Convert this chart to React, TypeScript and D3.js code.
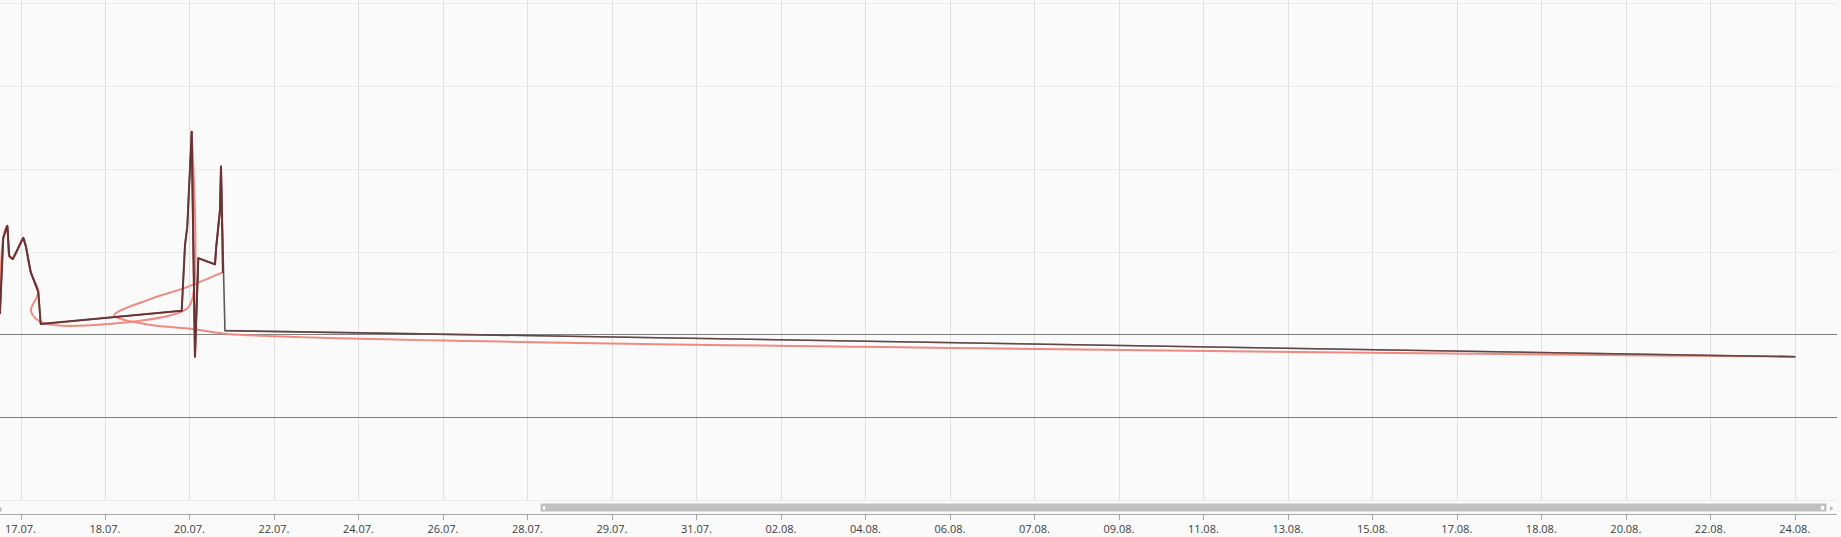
import React from 'react';
import * as d3 from 'd3';

const W = 1841;
const H = 537;

// category tick labels (evenly spaced positions 0..21)
const tickLabels = [
  '17.07.', '18.07.', '20.07.', '22.07.', '24.07.', '26.07.', '28.07.', '29.07.',
  '31.07.', '02.08.', '04.08.', '06.08.', '07.08.', '09.08.', '11.08.', '13.08.',
  '15.08.', '17.08.', '18.08.', '20.08.', '22.08.', '24.08.',
];
const yTicks = [-40, -20, 0, 20, 40, 60, 80];
const plotLineValues = [0, -20];

// gray series (linear)
const grayX = [-0.243, -0.204, -0.156, -0.133, -0.092, 0.033, 0.065, 0.121, 0.211, 0.239,
  1.908, 1.947, 1.974, 2.026, 2.065, 2.104, 2.302, 2.317, 2.361, 2.373, 2.42, 21.0];
const grayY = [5.1, 23.3, 26.2, 18.9, 18.2, 23.3, 21.1, 15.0, 10.2, 2.5,
  5.7, 21.6, 26.0, 48.9, -5.4, 18.4, 16.9, 21.2, 30.0, 40.5, 0.9, -5.4];

// dark red series: the two clusters ...
const redX = [-0.243, -0.204, -0.156, -0.133, -0.092, 0.033, 0.065, 0.121, 0.211, 0.239,
  1.908, 1.947, 1.974, 2.026, 2.065, 2.104, 2.302, 2.317, 2.361, 2.373, 2.396];
const redY = [5.1, 23.3, 26.2, 18.9, 18.2, 23.3, 21.1, 15.0, 10.2, 2.5,
  5.7, 21.6, 26.0, 48.9, -5.4, 18.4, 16.9, 21.2, 30.0, 40.5, 15.0];
// ... and its tail
const redTailX = [2.42, 21.0];
const redTailY = [0.9, -5.4];

// salmon spline series, in three stretches: rise, spikes, loop back + tail
const salmonRiseX = [-0.243, -0.204, -0.156, -0.133, -0.092, 0.033, 0.065, 0.121, 0.211, 0.124, 0.278,
  1.923, 2.03, 2.026];
const salmonRiseY = [5.1, 23.3, 26.2, 18.9, 18.2, 23.3, 21.1, 15.0, 10.2, 5.6, 2.7,
  5.6, 8.3, 48.9];
const salmonSpikeX = [2.026, 2.065, 2.104, 2.302, 2.317, 2.361, 2.373, 2.396];
const salmonSpikeY = [48.9, -5.4, 18.4, 16.9, 21.2, 30.0, 40.5, 15.0];
const salmonBackX = [2.396, 1.97, 1.533, 1.11, 1.533, 2.041, 2.45, 21.0];
const salmonBackY = [15.0, 11.4, 8.5, 4.6, 2.3, 1.3, 0.1, -5.4];

const PLOT = { left: 0, right: 1837, top: 0, bottom: 500 };

export default function App() {
  const x = d3.scaleLinear().domain([0, tickLabels.length - 1]).range([20.5, 1794.8]);
  const y = d3.scaleLinear().domain([-40, 80]).range([500, 3]);

  const zip = (xs: number[], ys: number[]) => xs.map((v, i) => [v, ys[i]] as [number, number]);

  const gray = zip(grayX, grayY);
  const red = zip(redX, redY);
  const redTail = zip(redTailX, redTailY);

  const linear = d3.line<[number, number]>().x(d => x(d[0])).y(d => y(d[1]));
  const spline = d3.line<[number, number]>()
    .x(d => x(d[0])).y(d => y(d[1]))
    .curve(d3.curveCatmullRom.alpha(0.5));

  const salmonD = [
    spline(zip(salmonRiseX, salmonRiseY)) || '',
    linear(zip(salmonSpikeX, salmonSpikeY)) || '',
    spline(zip(salmonBackX, salmonBackY)) || '',
  ];

  const font = '"Open Sans", "Noto Sans", sans-serif';

  return (
    <svg width={W} height={H} style={{ position: 'absolute', left: 0, top: 0, display: 'block' }}>
      <defs>
        <clipPath id="plotClip">
          <rect x={PLOT.left} y={PLOT.top} width={PLOT.right - PLOT.left} height={PLOT.bottom - PLOT.top} />
        </clipPath>
      </defs>
      <rect x={0} y={0} width={W} height={H} fill="#fafafa" />

      {/* horizontal grid */}
      {yTicks.map(t => (
        <line key={'h' + t} x1={PLOT.left} x2={PLOT.right} y1={Math.round(y(t)) + 0.5} y2={Math.round(y(t)) + 0.5}
          stroke="#ebebeb" strokeWidth={1} />
      ))}
      {/* vertical grid */}
      {tickLabels.map((_, i) => (
        <line key={'v' + i} x1={Math.round(x(i)) + 0.5} x2={Math.round(x(i)) + 0.5} y1={0} y2={PLOT.bottom}
          stroke="#e0e0e0" strokeWidth={1} />
      ))}
      {/* plot lines */}
      {plotLineValues.map(v => (
        <line key={'p' + v} x1={PLOT.left} x2={PLOT.right} y1={Math.round(y(v)) + 0.5} y2={Math.round(y(v)) + 0.5}
          stroke="#808080" strokeWidth={1} />
      ))}

      <g clipPath="url(#plotClip)" fill="none" strokeLinejoin="round" strokeLinecap="round">
        {salmonD.map((d, i) => (
          <path key={'s' + i} d={d} stroke="#f08a80" strokeWidth={2} />
        ))}
        <path d={linear(gray) || ''} stroke="#5a5a5a" strokeWidth={1.6} />
        <path d={linear(red) || ''} stroke="#6a2f2f" strokeWidth={2} strokeOpacity={0.9} />
        <path d={linear(redTail) || ''} stroke="#6a2f2f" strokeWidth={1.6} strokeOpacity={0.45} />
      </g>

      {/* scrollbar */}
      <rect x={0} y={507.5} width={1.5} height={4} fill="#bbbbbb" />
      <rect x={540.5} y={503.5} width={1286} height={8} fill="#c1c1c1" />
      <rect x={542.5} y={505.5} width={3} height={4.5} fill="#ffffff" stroke="#aaaaaa" strokeWidth={0.5} />
      <rect x={1820.5} y={505.5} width={4} height={4.5} fill="#ffffff" stroke="#aaaaaa" strokeWidth={0.5} />
      <path d="M1830,506 L1833.5,508.5 L1830,511 Z" fill="#bbbbbb" />

      {/* x axis */}
      <line x1={0} x2={PLOT.right} y1={514.5} y2={514.5} stroke="#a6a6a6" strokeWidth={1} />
      {tickLabels.map((lab, i) => (
        <g key={'t' + i}>
          <line x1={Math.round(x(i)) + 0.5} x2={Math.round(x(i)) + 0.5} y1={514.5} y2={520} stroke="#a6a6a6" />
          <text x={x(i)} y={533} textAnchor="middle" fontFamily={font} fontSize={11} fill="#3d3d3d">{lab}</text>
        </g>
      ))}
    </svg>
  );
}
